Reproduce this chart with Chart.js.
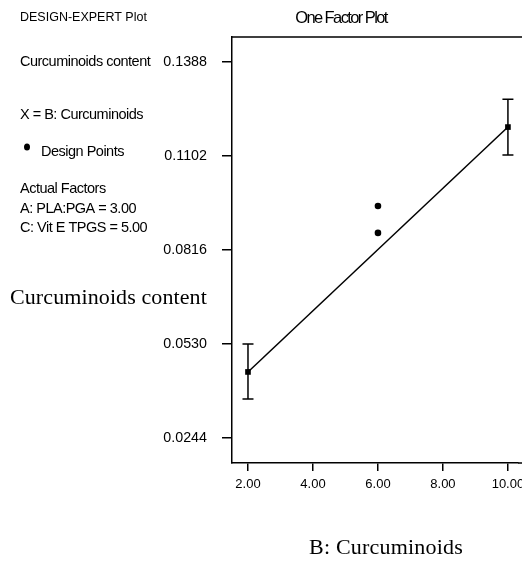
<!DOCTYPE html>
<html>
<head>
<meta charset="utf-8">
<script src="https://cdn.jsdelivr.net/npm/chart.js@4.4.1/dist/chart.umd.min.js"></script>
<style>
  html, body { margin: 0; padding: 0; background: #fff; }
  #wrap { position: relative; width: 522px; height: 565px; }
</style>
</head>
<body>
<div id="wrap"><canvas id="c" width="522" height="565"></canvas></div>
<script>
// ── Data ───────────────────────────────────────────────────────────────
const X_TICKS     = [2, 4, 6, 8, 10];
const Y_TICKS     = [0.0244, 0.0530, 0.0816, 0.1102, 0.1388];
const MEAN_X      = [2, 10];
const MEAN_Y      = [0.0445, 0.1190];
const ERR_LOW     = [0.0363, 0.1105];
const ERR_HIGH    = [0.0530, 0.1275];
const DESIGN_X    = [6, 6];
const DESIGN_Y    = [0.0950, 0.0868];

const SANS  = '"Liberation Sans", Arial, sans-serif';
const SERIF = '"Liberation Serif", "Times New Roman", serif';

const LEGEND_LINES = [
  ['Curcuminoids content', 62],
  ['X = B: Curcuminoids', 115],
  ['Actual Factors', 189],
  ['A: PLA:PGA = 3.00', 209],
  ['C: Vit E TPGS = 5.00', 228],
];

function txt(ctx, s, x, y, font, align, ls) {
  ctx.save();
  ctx.font = font;
  ctx.fillStyle = '#000';
  ctx.textAlign = align || 'left';
  ctx.textBaseline = 'middle';
  ctx.letterSpacing = (ls || 0) + 'px';
  ctx.fillText(s, x, y);
  ctx.restore();
}

// error bars, frame lines and all the loose text
const decor = {
  id: 'decor',
  afterDatasetsDraw(chart) {
    const { ctx, scales: { x, y }, chartArea: a } = chart;
    ctx.save();
    ctx.strokeStyle = '#000';
    ctx.lineWidth = 1.5;
    MEAN_X.forEach((mx, i) => {
      const px = x.getPixelForValue(mx);
      const lo = y.getPixelForValue(ERR_LOW[i]);
      const hi = y.getPixelForValue(ERR_HIGH[i]);
      ctx.beginPath();
      ctx.moveTo(px, lo); ctx.lineTo(px, hi);
      ctx.moveTo(px - 5.5, lo); ctx.lineTo(px + 5.5, lo);
      ctx.moveTo(px - 5.5, hi); ctx.lineTo(px + 5.5, hi);
      ctx.stroke();
    });
    ctx.beginPath();
    ctx.moveTo(a.left, a.top); ctx.lineTo(522, a.top);
    ctx.moveTo(a.right, a.bottom); ctx.lineTo(522, a.bottom);
    ctx.stroke();
    ctx.restore();

    txt(ctx, 'DESIGN-EXPERT Plot', 20, 18, '12.5px ' + SANS, 'left', 0);
    txt(ctx, 'One Factor Plot', 341, 18, '16.5px ' + SANS, 'center', -1.6);
    LEGEND_LINES.forEach(([s, yy]) => txt(ctx, s, 20, yy, '14.5px ' + SANS, 'left', -0.5));
    ctx.save();
    ctx.fillStyle = '#000';
    ctx.beginPath(); ctx.ellipse(27, 147, 3, 3.5, 0, 0, Math.PI * 2); ctx.fill();
    ctx.restore();
    txt(ctx, 'Design Points', 41, 152, '14.5px ' + SANS, 'left', -0.5);
    txt(ctx, 'Curcuminoids content', 10, 298, '22px ' + SERIF, 'left', 0.1);
    txt(ctx, 'B: Curcuminoids', 386, 548, '22px ' + SERIF, 'center', 0.2);
  }
};

new Chart(document.getElementById('c'), {
  type: 'scatter',
  data: {
    datasets: [
      { // fitted line
        data: MEAN_X.map((v, i) => ({ x: v, y: MEAN_Y[i] })),
        showLine: true, borderColor: '#000', borderWidth: 1.5,
        pointRadius: 0, order: 2,
      },
      { // predicted means
        data: MEAN_X.map((v, i) => ({ x: v, y: MEAN_Y[i] })),
        pointStyle: 'rect', pointRadius: 4, backgroundColor: '#000', borderColor: '#000', borderWidth: 0, order: 1,
      },
      { // design points
        data: DESIGN_X.map((v, i) => ({ x: v, y: DESIGN_Y[i] })),
        pointStyle: 'circle', pointRadius: 3.3, backgroundColor: '#000', borderColor: '#000', borderWidth: 0, order: 1,
      },
    ],
  },
  options: {
    responsive: false,
    animation: false,
    layout: { padding: { top: 37, right: 0, left: 0, bottom: 0 } },
    plugins: { legend: { display: false }, tooltip: { enabled: false } },
    scales: {
      x: {
        type: 'linear', min: 1.508, max: 10.31,
        afterBuildTicks: s => { s.ticks = X_TICKS.map(v => ({ value: v })); },
        afterFit: s => { s.height = 102; s.paddingLeft = 0; s.paddingRight = 0; },
        ticks: { color: '#000', padding: 6, maxRotation: 0, font: { family: SANS, size: 13 }, callback: v => v.toFixed(2) },
        grid: { drawOnChartArea: false, drawTicks: true, tickLength: 8, color: '#000', lineWidth: 1.5 },
        border: { color: '#000', width: 1.5 },
      },
      y: {
        type: 'linear', min: 0.0168, max: 0.1464,
        afterBuildTicks: s => { s.ticks = Y_TICKS.map(v => ({ value: v })); },
        afterFit: s => { s.width = 232; s.paddingTop = 0; s.paddingBottom = 0; },
        ticks: { color: '#000', padding: 15, font: { family: SANS, size: 14.3 }, callback: v => v.toFixed(4) },
        grid: { drawOnChartArea: false, drawTicks: true, tickLength: 10, color: '#000', lineWidth: 1.5 },
        border: { color: '#000', width: 1.5 },
      },
    },
  },
  plugins: [decor],
});
</script>
</body>
</html>
